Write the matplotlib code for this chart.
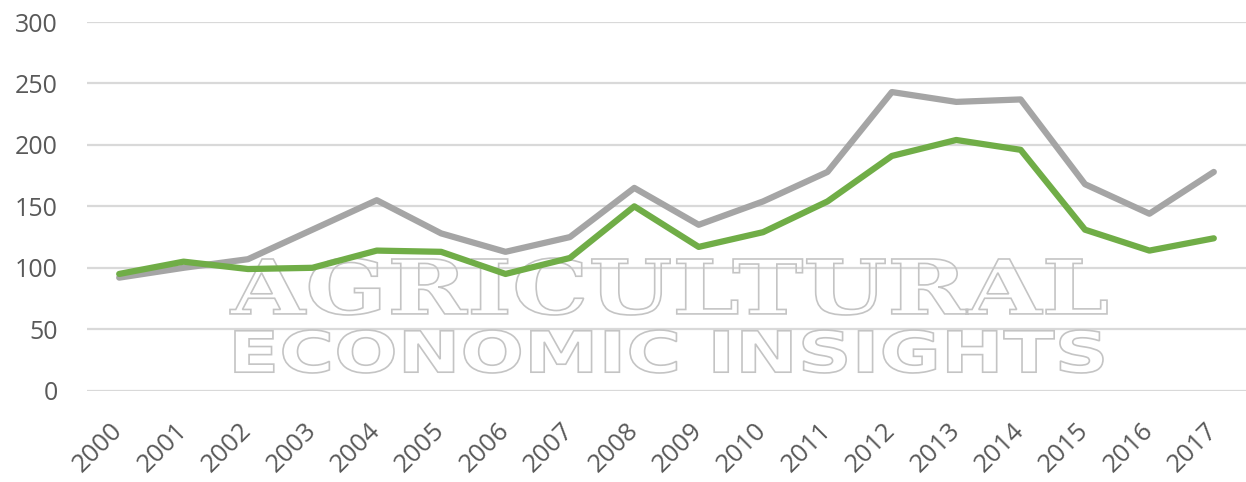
import matplotlib
matplotlib.use('Agg')
import matplotlib.pyplot as plt
from matplotlib.textpath import TextPath
from matplotlib.patches import PathPatch
from matplotlib.font_manager import FontProperties
from matplotlib.transforms import Affine2D

years = [str(y) for y in range(2000, 2018)]
gray_series = [92, 100, 107, 131, 155, 128, 113, 125, 165, 135,
               154, 178, 243, 235, 237, 168, 144, 178]
green_series = [95, 105, 99, 100, 114, 113, 95, 108, 150, 117,
                129, 154, 191, 204, 196, 131, 114, 124]
y_ticks = [0, 50, 100, 150, 200, 250, 300]

W, H = 1246, 482
text_color = '#595959'


def add_watermark(fig, ax, text, box, prop):
    # box = left, top, right, bottom in image pixels
    tp = TextPath((0, 0), text, size=100, prop=prop)
    ext = tp.get_extents()
    x0, y0, x1, y1 = box
    sx = (x1 - x0) / ext.width / W
    sy = (y1 - y0) / ext.height / H
    tr = Affine2D().translate(-ext.x0, -ext.y0).scale(sx, sy).translate(x0 / W, 1 - y1 / H)
    patch = PathPatch(tr.transform_path(tp), transform=fig.transFigure,
                      fc='none', ec='#c4c4c4', lw=1.2, zorder=1.5, clip_on=False)
    ax.add_artist(patch)


fig = plt.figure(figsize=(W / 100, H / 100), dpi=100)
ax = fig.add_axes([87 / W, (H - 390.7) / H, (W - 87) / W, (390.7 - 22) / H])

x = list(range(len(years)))
ax.plot(x, gray_series, color='#a5a5a5', lw=4.5, solid_capstyle='round',
        solid_joinstyle='round', zorder=3)
ax.plot(x, green_series, color='#70ad47', lw=4.5, solid_capstyle='round',
        solid_joinstyle='round', zorder=4)

ax.set_xlim(-0.5, len(years) - 0.5)
ax.set_ylim(0, 300)
ax.set_yticks(y_ticks)
ax.grid(axis='y', color='#d9d9d9', lw=1.6)
ax.set_axisbelow(True)
for s in ax.spines.values():
    s.set_visible(False)

ax.set_xticks(x)
ax.set_xticklabels(years, rotation=45, ha='right', va='center', rotation_mode='anchor',
                   fontsize=18.5, color=text_color, family='Open Sans')
ax.tick_params(axis='x', length=0, pad=26)
ax.tick_params(axis='y', length=0, pad=21, labelsize=18, labelcolor=text_color)
for lbl in ax.get_yticklabels():
    lbl.set_family('Open Sans')

add_watermark(fig, ax, 'AGRICULTURAL', (230, 258, 1107, 315),
              FontProperties(family='DejaVu Serif', weight='bold'))
add_watermark(fig, ax, 'ECONOMIC INSIGHTS', (235, 330, 1103, 373),
              FontProperties(family='DejaVu Sans', weight='bold'))

fig.savefig('out.png', dpi=100)
